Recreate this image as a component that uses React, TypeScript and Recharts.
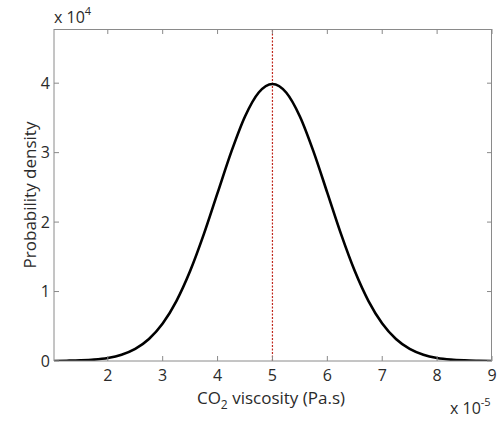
import { LineChart, Line, XAxis, YAxis, ReferenceLine } from "recharts";

// viscosity (x 10^-5 Pa.s)
const viscosity = [
  1.02, 1.25, 1.5, 1.75, 2.0, 2.25, 2.5, 2.75, 3.0, 3.25, 3.5, 3.75, 4.0, 4.25, 4.5, 4.75, 5.0,
  5.25, 5.5, 5.75, 6.0, 6.25, 6.5, 6.75, 7.0, 7.25, 7.5, 7.75, 8.0, 8.25, 8.5, 8.75, 9.0,
];
// probability density (x 10^4)
const density = [
  0.001, 0.004, 0.009, 0.02, 0.044, 0.091, 0.175, 0.317, 0.54, 0.863, 1.295, 1.826, 2.42, 3.011, 3.521, 3.866, 3.989,
  3.866, 3.521, 3.011, 2.42, 1.826, 1.295, 0.863, 0.54, 0.317, 0.175, 0.091, 0.044, 0.02, 0.009, 0.004, 0.001,
];
const xTicks = [2, 3, 4, 5, 6, 7, 8, 9];
const yTicks = [0, 1, 2, 3, 4];
const meanValue = 5;
const xDomain = [1.02, 9];
const yDomain = [0, 4.78];

const data = viscosity.map((v, i) => ({ v, d: density[i] }));

const W = 502;
const H = 423;
const margin = { top: 29, right: 10, bottom: 32, left: 24 };
const yAxisW = 30;
const xAxisH = 30;
// plot box, derived from the chart layout above
const left = margin.left + yAxisW;
const top = margin.top;
const right = W - margin.right;
const bottom = H - margin.bottom - xAxisH;

const font = "'Open Sans', 'DejaVu Sans', sans-serif";
const frame = "#8a8a8a";
const textColor = "#2a2a2a";
const fs = 16;

// top/right frame with inward ticks (MATLAB box), same linear mapping as the axes
const sx = (v: number) => left + ((v - xDomain[0]) / (xDomain[1] - xDomain[0])) * (right - left);
const sy = (v: number) => bottom - ((v - yDomain[0]) / (yDomain[1] - yDomain[0])) * (bottom - top);

export default function App() {
  return (
    <div style={{ position: "absolute", left: 0, top: 0, width: W, height: H, background: "#fff", fontFamily: font }}>
      <LineChart width={W} height={H} data={data} margin={margin}>
        <XAxis
          dataKey="v"
          type="number"
          domain={xDomain}
          ticks={xTicks}
          height={xAxisH}
          stroke={frame}
          tickSize={-5}
          tickMargin={14}
          tick={{ fill: textColor, fontSize: fs, fontFamily: font }}
          allowDataOverflow
        />
        <YAxis
          type="number"
          domain={yDomain}
          ticks={yTicks}
          width={yAxisW}
          stroke={frame}
          tickSize={-5}
          tickMargin={9}
          tick={{ fill: textColor, fontSize: fs, fontFamily: font }}
          allowDataOverflow
        />
        <ReferenceLine
          x={meanValue}
          stroke="#c0281e"
          strokeWidth={1.2}
          strokeDasharray="2 1.5"
        />
        <Line
          dataKey="d"
          type="monotone"
          stroke="#000"
          strokeWidth={2.6}
          dot={false}
          isAnimationActive={false}
        />
      </LineChart>
      <svg width={W} height={H} style={{ position: "absolute", left: 0, top: 0, pointerEvents: "none" }}>
        <line x1={left} y1={top + 0.5} x2={right} y2={top + 0.5} stroke={frame} />
        <line x1={right - 0.5} y1={top} x2={right - 0.5} y2={bottom} stroke={frame} />
        {xTicks.map((t) => (
          <line key={"tx" + t} x1={sx(t)} y1={top} x2={sx(t)} y2={top + 5} stroke={frame} />
        ))}
        {yTicks.map((t) => (
          <line key={"ty" + t} x1={right} y1={sy(t)} x2={right - 5} y2={sy(t)} stroke={frame} />
        ))}
        <text
          x={36}
          y={195}
          transform="rotate(-90 36 195)"
          textAnchor="middle"
          fill={textColor}
          fontSize={17}
          fontFamily={font}
        >
          Probability density
        </text>
        <text x={271} y={404} textAnchor="middle" fill={textColor} fontSize={17} fontFamily={font}>
          CO<tspan fontSize={12} dy={5}>2</tspan>
          <tspan dy={-5}> viscosity (Pa.s)</tspan>
        </text>
        <text x={54} y={23} fill={textColor} fontSize={fs} fontFamily={font}>
          x 10<tspan fontSize={11} dy={-8}>4</tspan>
        </text>
        <text x={450} y={414} fill={textColor} fontSize={fs} fontFamily={font}>
          x 10<tspan fontSize={11} dy={-8}>-5</tspan>
        </text>
      </svg>
    </div>
  );
}
